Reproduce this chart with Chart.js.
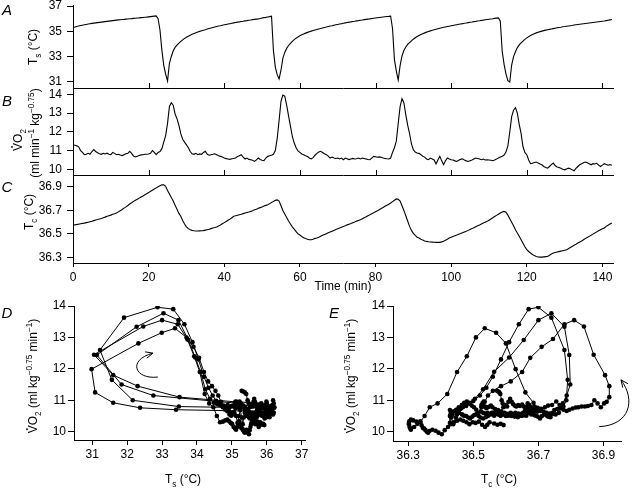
<!DOCTYPE html>
<html><head><meta charset="utf-8">
<script src="https://cdn.jsdelivr.net/npm/chart.js@4.4.1/dist/chart.umd.min.js"></script>
<style>
html,body{margin:0;padding:0;background:#fff;}
#wrap{position:relative;width:636px;height:488px;background:#fff;}
#wrap canvas{position:absolute;left:0;top:0;}
</style></head><body><div id="wrap">
<canvas id="cA" width="636" height="488"></canvas>
<canvas id="cB" width="636" height="488"></canvas>
<canvas id="cC" width="636" height="488"></canvas>
<canvas id="cD" width="636" height="488"></canvas>
<canvas id="cE" width="636" height="488"></canvas>
</div>
<script>
// ---------- data (sampled every 0.5 min) ----------
const timeMin = [
0,0.5,1,1.5,2,2.5,3,3.5,4,4.5,5,5.5,6,6.5,7,7.5,8,8.5,9,9.5,
10,10.5,11,11.5,12,12.5,13,13.5,14,14.5,15,15.5,16,16.5,17,17.5,18,18.5,19,19.5,
20,20.5,21,21.5,22,22.5,23,23.5,24,24.5,25,25.5,26,26.5,27,27.5,28,28.5,29,29.5,
30,30.5,31,31.5,32,32.5,33,33.5,34,34.5,35,35.5,36,36.5,37,37.5,38,38.5,39,39.5,
40,40.5,41,41.5,42,42.5,43,43.5,44,44.5,45,45.5,46,46.5,47,47.5,48,48.5,49,49.5,
50,50.5,51,51.5,52,52.5,53,53.5,54,54.5,55,55.5,56,56.5,57,57.5,58,58.5,59,59.5,
60,60.5,61,61.5,62,62.5,63,63.5,64,64.5,65,65.5,66,66.5,67,67.5,68,68.5,69,69.5,
70,70.5,71,71.5,72,72.5,73,73.5,74,74.5,75,75.5,76,76.5,77,77.5,78,78.5,79,79.5,
80,80.5,81,81.5,82,82.5,83,83.5,84,84.5,85,85.5,86,86.5,87,87.5,88,88.5,89,89.5,
90,90.5,91,91.5,92,92.5,93,93.5,94,94.5,95,95.5,96,96.5,97,97.5,98,98.5,99,99.5,
100,100.5,101,101.5,102,102.5,103,103.5,104,104.5,105,105.5,106,106.5,107,107.5,108,108.5,109,109.5,
110,110.5,111,111.5,112,112.5,113,113.5,114,114.5,115,115.5,116,116.5,117,117.5,118,118.5,119,119.5,
120,120.5,121,121.5,122,122.5,123,123.5,124,124.5,125,125.5,126,126.5,127,127.5,128,128.5,129,129.5,
130,130.5,131,131.5,132,132.5,133,133.5,134,134.5,135,135.5,136,136.5,137,137.5,138,138.5,139,139.5,
140,140.5,141,141.5,142,142.5];

const tsValues = [
35.28,35.33,35.37,35.41,35.45,35.48,35.51,35.54,35.57,35.6,35.62,35.64,35.66,35.68,35.7,35.72,35.74,35.76,35.78,35.8,
35.82,35.84,35.86,35.88,35.9,35.91,35.93,35.94,35.96,35.97,35.99,36.0,36.02,36.03,36.05,36.06,36.08,36.09,36.11,36.12,
36.14,36.16,36.18,36.2,36.22,36.0,35.1,33.5,32.3,31.6,31.05,32.46,33.0,33.45,33.72,33.9,34.06,34.2,34.32,34.43,
34.53,34.61,34.69,34.76,34.82,34.88,34.94,34.99,35.04,35.08,35.12,35.17,35.21,35.25,35.29,35.33,35.37,35.41,35.44,35.48,
35.51,35.54,35.57,35.6,35.63,35.66,35.69,35.72,35.74,35.77,35.79,35.82,35.84,35.87,35.89,35.92,35.94,35.96,35.98,36.01,
36.05,36.08,36.1,36.13,36.16,36.2,33.48,32.16,31.56,31.22,31.91,32.87,33.32,33.64,33.87,34.04,34.2,34.33,34.45,34.55,
34.64,34.72,34.79,34.85,34.91,34.96,35.01,35.06,35.1,35.14,35.18,35.22,35.26,35.3,35.33,35.37,35.41,35.44,35.48,35.51,
35.54,35.57,35.6,35.63,35.66,35.69,35.72,35.74,35.77,35.79,35.82,35.84,35.87,35.89,35.92,35.94,35.96,35.98,36.01,36.03,
36.05,36.07,36.09,36.11,36.13,36.15,36.17,36.18,36.2,35.2,32.75,31.84,31.13,32.27,33.04,33.47,33.75,33.95,34.1,34.24,
34.37,34.48,34.58,34.66,34.74,34.81,34.87,34.93,34.98,35.03,35.08,35.12,35.16,35.2,35.24,35.28,35.31,35.34,35.37,35.4,
35.43,35.46,35.49,35.52,35.55,35.58,35.6,35.63,35.65,35.68,35.71,35.73,35.76,35.78,35.81,35.83,35.86,35.88,35.91,35.93,
35.95,35.97,35.99,36.02,36.04,36.06,35.8,33.4,32.37,31.6,31.08,30.98,32.32,32.99,33.37,33.7,33.92,34.08,34.22,34.35,
34.47,34.57,34.66,34.74,34.81,34.87,34.92,34.97,35.01,35.05,35.09,35.12,35.15,35.18,35.21,35.24,35.27,35.3,35.32,35.35,
35.37,35.4,35.42,35.44,35.46,35.49,35.51,35.53,35.55,35.57,35.59,35.61,35.63,35.65,35.67,35.69,35.71,35.73,35.75,35.77,
35.79,35.81,35.84,35.87,35.9,35.93];

const vo2Values = [
11.3,11.28,11.25,11.2,11.0,10.9,10.78,10.8,10.85,10.8,10.95,11.05,10.95,10.88,10.83,10.8,10.85,10.82,10.86,10.8,
10.78,10.9,10.85,10.78,10.8,10.76,10.73,10.78,10.83,10.85,10.96,10.85,10.7,10.66,10.7,10.74,10.77,10.78,10.8,10.8,
10.82,10.85,11.0,10.9,10.78,10.9,10.95,11.1,11.45,11.8,12.45,13.35,13.55,13.42,12.95,12.7,12.35,11.9,11.6,11.45,
11.3,11.15,10.95,10.83,10.8,10.85,10.78,10.82,10.8,10.9,10.96,10.8,10.75,10.78,10.8,10.83,10.78,10.72,10.69,10.65,
10.6,10.57,10.55,10.53,10.56,10.58,10.6,10.68,10.72,10.78,10.65,10.55,10.6,10.53,10.51,10.48,10.42,10.5,10.6,10.52,
10.48,10.46,10.6,10.69,10.72,10.75,10.8,11.0,11.65,12.6,13.63,13.96,13.9,13.42,12.85,12.3,11.75,11.4,11.15,10.98,
10.9,10.82,10.78,10.72,10.68,10.6,10.55,10.62,10.75,10.85,10.92,10.96,10.9,10.83,10.78,10.7,10.6,10.65,10.6,10.58,
10.6,10.55,10.6,10.51,10.6,10.56,10.52,10.55,10.58,10.55,10.56,10.6,10.55,10.6,10.58,10.55,10.52,10.51,10.6,10.69,
10.67,10.64,10.66,10.64,10.6,10.58,10.56,10.55,10.6,10.9,11.15,11.5,12.44,13.34,13.77,13.55,12.92,12.36,11.91,11.35,
11.05,10.92,10.87,10.85,10.78,10.7,10.65,10.55,10.51,10.6,10.55,10.5,10.28,10.5,10.69,10.45,10.24,10.45,10.6,10.55,
10.51,10.5,10.45,10.42,10.48,10.53,10.56,10.5,10.45,10.42,10.46,10.5,10.55,10.6,10.58,10.55,10.51,10.55,10.5,10.51,
10.5,10.48,10.46,10.5,10.55,10.6,10.65,10.7,10.76,10.92,11.25,11.99,12.81,13.15,13.29,13.0,12.4,11.9,11.2,10.9,
10.78,10.5,10.3,10.32,10.36,10.39,10.33,10.28,10.24,10.15,10.1,10.06,10.15,10.25,10.33,10.2,10.12,10.1,10.05,10.0,
9.97,10.02,10.06,10.03,9.97,9.92,10.05,10.15,10.24,10.3,10.35,10.39,10.35,10.3,10.24,10.3,10.28,10.32,10.22,10.15,
10.22,10.3,10.26,10.22,10.25,10.21];

const tcValues = [
36.573,36.577,36.58,36.583,36.587,36.59,36.592,36.596,36.6,36.604,36.608,36.613,36.618,36.622,36.627,36.632,36.638,36.643,36.65,36.655,
36.66,36.667,36.672,36.678,36.688,36.698,36.708,36.72,36.73,36.742,36.755,36.765,36.777,36.787,36.795,36.805,36.815,36.823,36.833,36.843,
36.852,36.863,36.872,36.882,36.892,36.902,36.91,36.918,36.918,36.905,36.87,36.84,36.81,36.78,36.745,36.71,36.675,36.65,36.615,36.585,
36.56,36.545,36.535,36.53,36.527,36.525,36.525,36.526,36.527,36.528,36.532,36.536,36.54,36.545,36.55,36.554,36.559,36.567,36.576,36.586,
36.596,36.606,36.616,36.626,36.638,36.65,36.654,36.659,36.664,36.668,36.673,36.678,36.683,36.687,36.692,36.698,36.705,36.711,36.718,36.724,
36.73,36.737,36.743,36.749,36.758,36.767,36.777,36.786,36.79,36.78,36.74,36.7,36.67,36.64,36.61,36.585,36.56,36.54,36.52,36.5,
36.49,36.478,36.468,36.46,36.454,36.45,36.45,36.455,36.462,36.465,36.472,36.48,36.488,36.495,36.502,36.509,36.516,36.523,36.53,36.537,
36.544,36.55,36.557,36.564,36.57,36.577,36.583,36.589,36.596,36.602,36.609,36.615,36.621,36.629,36.638,36.646,36.655,36.663,36.672,36.68,
36.689,36.697,36.706,36.716,36.725,36.735,36.744,36.753,36.763,36.775,36.787,36.798,36.795,36.78,36.74,36.7,36.655,36.61,36.564,36.53,
36.505,36.488,36.472,36.465,36.455,36.447,36.44,36.436,36.433,36.431,36.43,36.429,36.428,36.428,36.428,36.432,36.438,36.446,36.455,36.465,
36.471,36.478,36.484,36.49,36.497,36.503,36.51,36.516,36.522,36.53,36.538,36.545,36.553,36.561,36.569,36.576,36.584,36.592,36.6,36.607,
36.617,36.627,36.637,36.648,36.658,36.668,36.678,36.686,36.692,36.685,36.66,36.63,36.6,36.57,36.535,36.508,36.48,36.45,36.42,36.39,
36.366,36.35,36.337,36.325,36.315,36.308,36.303,36.302,36.302,36.304,36.306,36.308,36.318,36.328,36.337,36.341,36.345,36.349,36.353,36.357,
36.361,36.365,36.374,36.384,36.393,36.403,36.412,36.422,36.431,36.44,36.45,36.46,36.469,36.479,36.488,36.498,36.507,36.517,36.527,36.536,
36.543,36.55,36.564,36.574,36.584,36.593];

// tick labels
const timeTicks = [0,20,40,60,80,100,120,140];
const tsTicks = [31,33,35,37];
const vo2Ticks = [10,11,12,13,14];
const tcTicks = [36.3,36.5,36.7,36.9];
const tsScatterTicks = [31,32,33,34,35,36,37];
const tcScatterTicks = [36.3,36.5,36.7,36.9];

// text
const panelLetters = ['A','B','C','D','E'];
const timeTitle = 'Time (min)';
const tsTitle = [['T','n'],['s','sub'],[' (°C)','n']];
const tcTitle = [['T','n'],['c','sub'],[' (°C)','n']];
const vo2TitleLine1 = [['V','vdot'],['O','n'],['2','sub']];
const vo2TitleLine2 = [['(ml min','n'],['−1','sup'],[' kg','n'],['−0.75','sup'],[')','n']];
const vo2ScatterTitle = [['V','vdot'],['O','n'],['2','sub'],[' (ml kg','n'],['−0.75','sup'],[' min','n'],['−1','sup'],[')','n']];

// direction arrows (curve control points, data units)
const arrowD = [[32.88,11.74],[32.22,11.65],[31.99,12.28],[32.74,12.5]];
const arrowE = [[36.887,10.16],[36.982,10.21],[37.0,11.01],[36.954,11.65]];

// ---------- drawing ----------
const FONT = '"Liberation Sans", Arial, Helvetica, sans-serif';
Chart.defaults.font.family = FONT;
Chart.defaults.font.size = 12;
Chart.defaults.color = '#000';
const W = 636, H = 488;

function pairs(xs, ys){ return xs.map((x,i)=>({x:x, y:ys[i]})); }
function fixedTicks(arr){ return s => { s.ticks = arr.map(v=>({value:v})); }; }
function fitSize(size){ return s => {
  if (s.isHorizontal()) { s.height = size; s.paddingLeft = 0; s.paddingRight = 0; }
  else { s.width = size; s.paddingTop = 0; s.paddingBottom = 0; }
}; }

function richText(ctx, cx, cy, rot, parts, size){
  ctx.save();
  ctx.translate(cx, cy); ctx.rotate(rot);
  ctx.textBaseline = 'alphabetic'; ctx.textAlign = 'left'; ctx.fillStyle = '#000';
  let total = 0;
  const items = parts.map(([t,k]) => {
    const fs = (k==='sub'||k==='sup') ? size*0.68 : size;
    ctx.font = fs + 'px ' + FONT;
    const w = ctx.measureText(t).width;
    total += w;
    return {t, k, fs, w};
  });
  let x = -total/2;
  const base = size*0.36;
  items.forEach(it => {
    ctx.font = it.fs + 'px ' + FONT;
    let dy = base;
    if (it.k==='sub') dy += size*0.3;
    if (it.k==='sup') dy -= size*0.42;
    ctx.fillText(it.t, x, dy);
    if (it.k==='vdot') {
      ctx.beginPath();
      ctx.arc(x + it.w/2, base - size*0.86, size*0.075, 0, Math.PI*2);
      ctx.fill();
    }
    x += it.w;
  });
  ctx.restore();
}
function letter(ctx, t, x, y){
  ctx.save();
  ctx.font = 'italic 15px ' + FONT;
  ctx.fillStyle = '#000'; ctx.textAlign = 'center'; ctx.textBaseline = 'middle';
  ctx.fillText(t, x, y);
  ctx.restore();
}
function drawArrow(chart, pts){
  const xs = chart.scales.x, ys = chart.scales.y;
  const p = pts.map(([a,b]) => [xs.getPixelForValue(a), ys.getPixelForValue(b)]);
  const ctx = chart.ctx;
  ctx.save();
  ctx.strokeStyle = '#000'; ctx.lineWidth = 1;
  ctx.beginPath();
  ctx.moveTo(p[0][0], p[0][1]);
  ctx.bezierCurveTo(p[1][0], p[1][1], p[2][0], p[2][1], p[3][0], p[3][1]);
  ctx.stroke();
  const ang = Math.atan2(p[3][1]-p[2][1], p[3][0]-p[2][0]);
  const L = 8, a = 0.42;
  ctx.beginPath();
  ctx.moveTo(p[3][0] - L*Math.cos(ang-a), p[3][1] - L*Math.sin(ang-a));
  ctx.lineTo(p[3][0], p[3][1]);
  ctx.lineTo(p[3][0] - L*Math.cos(ang+a), p[3][1] - L*Math.sin(ang+a));
  ctx.stroke();
  ctx.restore();
}
function upTicks(chart){
  const xs = chart.scales.x, ctx = chart.ctx, b = chart.chartArea.bottom;
  ctx.save(); ctx.strokeStyle = '#000'; ctx.lineWidth = 1;
  timeTicks.forEach(v => {
    const x = Math.round(xs.getPixelForValue(v)) + 0.5;
    ctx.beginPath(); ctx.moveTo(x, b); ctx.lineTo(x, b - 5); ctx.stroke();
  });
  ctx.restore();
}

function yAxis(min, max, ticks, width, tl, pad){
  return { type:'linear', position:'left', min:min, max:max,
    afterBuildTicks: fixedTicks(ticks), afterFit: fitSize(width),
    ticks:{ padding:pad, autoSkip:false, font:{size:12}, callback: v => String(v) },
    grid:{ drawOnChartArea:false, drawTicks:true, tickLength:tl, color:'#000', lineWidth:1 },
    border:{ display:true, color:'#000', width:1 } };
}
function xAxisPlain(min, max, ticks){
  return { type:'linear', position:'bottom', min:min, max:max,
    afterBuildTicks: fixedTicks(ticks), afterFit: fitSize(0),
    ticks:{ display:false }, grid:{ drawOnChartArea:false, drawTicks:false },
    border:{ display:true, color:'#000', width:1 } };
}
function xAxisLabeled(min, max, ticks, tl, pad, h){
  return { type:'linear', position:'bottom', min:min, max:max,
    afterBuildTicks: fixedTicks(ticks), afterFit: fitSize(h),
    ticks:{ padding:pad, autoSkip:false, maxRotation:0, font:{size:12}, callback: v => String(v) },
    grid:{ drawOnChartArea:false, drawTicks:true, tickLength:tl, color:'#000', lineWidth:1 },
    border:{ display:true, color:'#000', width:1 } };
}
function baseOpts(area, xh, scales){
  return {
    responsive:false, animation:false, devicePixelRatio:1,
    layout:{ padding:{ left:0, top:area.top, right:W-area.right, bottom:H-area.bottom-xh } },
    plugins:{ legend:{display:false}, tooltip:{enabled:false}, title:{display:false} },
    scales: scales
  };
}
function lineDs(ys){
  return { data: pairs(timeMin, ys), borderColor:'#000', borderWidth:1.1, pointRadius:0, tension:0, fill:false };
}
function loopDs(xs, ys){
  return { data: pairs(xs, ys), showLine:true, borderColor:'#000', borderWidth:1,
    pointRadius:2.3, pointBackgroundColor:'#000', pointBorderWidth:0, tension:0 };
}

// Panel A
new Chart(document.getElementById('cA'), {
  type:'line',
  data:{ datasets:[ lineDs(tsValues) ] },
  options: baseOpts({top:5, bottom:88, right:613}, 0, {
    x: xAxisPlain(0, 142.8, timeTicks),
    y: yAxis(30.5, 37.08, tsTicks, 73, 6, 5)
  }),
  plugins:[{ id:'decoA', afterDraw(c){ upTicks(c); letter(c.ctx, panelLetters[0], 7, 11);
    richText(c.ctx, 33, 47, -Math.PI/2, tsTitle, 12); } }]
});
// Panel B
new Chart(document.getElementById('cB'), {
  type:'line',
  data:{ datasets:[ lineDs(vo2Values) ] },
  options: baseOpts({top:88, bottom:175, right:613}, 0, {
    x: xAxisPlain(0, 142.8, timeTicks),
    y: yAxis(9.696, 14.336, vo2Ticks, 73, 6, 5)
  }),
  plugins:[{ id:'decoB', afterDraw(c){ upTicks(c); letter(c.ctx, panelLetters[1], 7, 102);
    richText(c.ctx, 18, 140, -Math.PI/2, vo2TitleLine1, 12);
    richText(c.ctx, 35, 133, -Math.PI/2, vo2TitleLine2, 12); } }]
});
// Panel C
new Chart(document.getElementById('cC'), {
  type:'line',
  data:{ datasets:[ lineDs(tcValues) ] },
  options: baseOpts({top:175, bottom:263, right:613}, 30, {
    x: xAxisLabeled(0, 142.8, timeTicks, 4, 3, 30),
    y: yAxis(36.252, 37.002, tcTicks, 73, 6, 5)
  }),
  plugins:[{ id:'decoC', afterDraw(c){ letter(c.ctx, panelLetters[2], 7, 188);
    richText(c.ctx, 29, 212, -Math.PI/2, tcTitle, 12);
    const ctx = c.ctx; ctx.save(); ctx.font = '12px ' + FONT; ctx.fillStyle = '#000';
    ctx.textAlign = 'center'; ctx.textBaseline = 'middle';
    ctx.fillText(timeTitle, (c.chartArea.left + c.chartArea.right)/2, 287); ctx.restore(); } }]
});
// Panel D
new Chart(document.getElementById('cD'), {
  type:'scatter',
  data:{ datasets:[ loopDs(tsValues, vo2Values) ] },
  options: baseOpts({top:306, bottom:440, right:305}, 48, {
    x: xAxisLabeled(30.476, 37.095, tsScatterTicks, 5, 2, 48),
    y: yAxis(9.736, 14, vo2Ticks, 74, 6, 2)
  }),
  plugins:[{ id:'decoD', afterDraw(c){ letter(c.ctx, panelLetters[3], 7, 314);
    richText(c.ctx, 33, 376, -Math.PI/2, vo2ScatterTitle, 12);
    richText(c.ctx, 183, 479, 0, tsTitle, 12);
    drawArrow(c, arrowD); } }]
});
// Panel E
new Chart(document.getElementById('cE'), {
  type:'scatter',
  data:{ datasets:[ loopDs(tcValues, vo2Values) ] },
  options: baseOpts({top:306, bottom:441, right:621}, 47, {
    x: xAxisLabeled(36.253, 36.954, tcScatterTicks, 5, 2, 47),
    y: yAxis(9.704, 14, vo2Ticks, 393, 6, 2)
  }),
  plugins:[{ id:'decoE', afterDraw(c){ letter(c.ctx, panelLetters[4], 334, 314);
    richText(c.ctx, 351, 376, -Math.PI/2, vo2ScatterTitle, 12);
    richText(c.ctx, 499, 479, 0, tcTitle, 12);
    drawArrow(c, arrowE); } }]
});
</script></body></html>
